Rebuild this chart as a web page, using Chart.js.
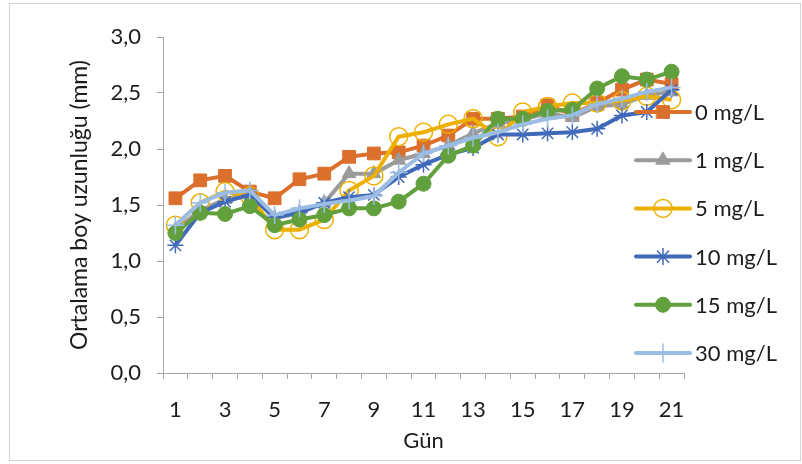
<!DOCTYPE html>
<html>
<head>
<meta charset="utf-8">
<script src="https://cdn.jsdelivr.net/npm/chart.js@4/dist/chart.umd.min.js"></script>
<style>
  html, body { margin: 0; padding: 0; background: #fff; }
  canvas { display: block; }
</style>
</head>
<body>
<canvas id="growthChart" width="802" height="464"></canvas>
<script>
// Günler ve her konsantrasyon için ortalama boy (mm)
const days = ['1','2','3','4','5','6','7','8','9','10','11','12','13','14','15','16','17','18','19','20','21'];
const seriesNames = ['0 mg/L', '1 mg/L', '5 mg/L', '10 mg/L', '15 mg/L', '30 mg/L'];
const c0  = [1.56,1.72,1.76,1.62,1.56,1.73,1.78,1.93,1.96,1.97,2.03,2.12,2.27,2.27,2.29,2.39,2.31,2.41,2.53,2.62,2.58];
const c1  = [1.28,1.45,1.55,1.60,1.38,1.43,1.52,1.78,1.78,1.90,1.96,2.03,2.14,2.23,2.26,2.32,2.28,2.38,2.40,2.48,2.51];
const c5  = [1.32,1.52,1.62,1.58,1.28,1.28,1.37,1.63,1.76,2.11,2.15,2.22,2.27,2.11,2.33,2.38,2.41,2.41,2.43,2.47,2.44];
const c10 = [1.14,1.43,1.53,1.59,1.39,1.43,1.52,1.57,1.59,1.75,1.86,1.95,2.01,2.13,2.13,2.14,2.15,2.18,2.30,2.33,2.53];
const c15 = [1.25,1.43,1.42,1.49,1.32,1.37,1.41,1.47,1.47,1.53,1.69,1.94,2.03,2.27,2.27,2.34,2.35,2.54,2.65,2.62,2.69];
const c30 = [1.32,1.52,1.61,1.63,1.41,1.47,1.51,1.54,1.58,1.79,1.96,2.03,2.10,2.15,2.22,2.27,2.30,2.40,2.45,2.51,2.55];
const yTicks = [0, 0.5, 1, 1.5, 2, 2.5, 3];

const FONT = 'Lato, "Open Sans", sans-serif';
const TEXT = '#1c1c1c';
const AXIS = '#a6a6a6';

function lineSet(label, data, color, style, radius, filled, order) {
    return {
        label: label,
        data: data,
        borderColor: color,
        backgroundColor: color,
        borderWidth: 4,
        pointStyle: style,
        pointRadius: radius,
        pointHoverRadius: radius,
        pointBorderWidth: filled ? 1 : 1.5,
        pointBorderColor: color,
        pointBackgroundColor: filled ? color : 'rgba(255,255,255,0)',
        tension: 0,
        order: order
    };
}

// çerçeve
const framePlugin = {
    id: 'frame',
    beforeDraw(chart) {
        const ctx = chart.ctx;
        ctx.save();
        ctx.fillStyle = '#fff';
        ctx.fillRect(0, 0, chart.width, chart.height);
        ctx.strokeStyle = '#d4d4d4';
        ctx.lineWidth = 1;
        ctx.strokeRect(9.5, 3.5, 791, 457);
        ctx.restore();
    }
};

// sağdaki açıklama: çizgi + işaret + metin
const sideLegend = {
    id: 'sideLegend',
    afterDraw(chart) {
        const ctx = chart.ctx;
        const x0 = 636, x1 = 690, rowTop = 112, rowGap = 48.2;
        chart.data.datasets.forEach(function(ds, i) {
            const y = rowTop + i * rowGap;
            ctx.save();
            ctx.strokeStyle = ds.borderColor;
            ctx.lineWidth = ds.borderWidth;
            ctx.lineCap = 'round';
            ctx.beginPath();
            ctx.moveTo(x0, y);
            ctx.lineTo(x1, y);
            ctx.stroke();
            ctx.fillStyle = ds.pointBackgroundColor;
            ctx.strokeStyle = ds.pointBorderColor;
            ctx.lineWidth = ds.pointBorderWidth;
            Chart.helpers.drawPoint(ctx, {
                pointStyle: ds.pointStyle,
                rotation: 0,
                radius: ds.pointRadius,
                borderWidth: ds.pointBorderWidth
            }, (x0 + x1) / 2, y);
            ctx.fillStyle = TEXT;
            ctx.font = '22px ' + FONT;
            ctx.textBaseline = 'middle';
            ctx.textAlign = 'left';
            ctx.fillText(ds.label, 695, y + 1);
            ctx.restore();
        });
    }
};

const ctx = document.getElementById('growthChart').getContext('2d');
const growthChart = new Chart(ctx, {
    type: 'line',
    data: {
        labels: days,
        datasets: [
            lineSet(seriesNames[0], c0,  '#db6f2c', 'rect',     9,   true,  5),
            lineSet(seriesNames[1], c1,  '#9b9b9b', 'triangle', 8,   true,  4),
            lineSet(seriesNames[2], c5,  '#ecb000', 'circle',   9,   false, 3),
            lineSet(seriesNames[3], c10, '#4169b9', 'star',     8,   false, 2),
            lineSet(seriesNames[4], c15, '#62a03d', 'circle',   7.5, true,  1),
            lineSet(seriesNames[5], c30, '#9bbde3', 'cross',    9,   false, 0)
        ]
    },
    options: {
        responsive: false,
        animation: false,
        layout: {
            padding: { left: 0, right: 118, top: 37, bottom: 0 }
        },
        plugins: {
            legend: { display: false },
            tooltip: { enabled: false }
        },
        scales: {
            x: {
                offset: true,
                grid: {
                    offset: true,
                    drawOnChartArea: false,
                    drawTicks: true,
                    tickLength: 6,
                    color: AXIS
                },
                border: { display: true, color: AXIS, width: 1 },
                ticks: {
                    autoSkip: false,
                    maxRotation: 0,
                    padding: 18,
                    color: TEXT,
                    font: { family: FONT, size: 22 },
                    callback: function(value, index) {
                        return index % 2 === 0 ? days[index] : '';
                    }
                },
                title: {
                    display: true,
                    text: 'Gün',
                    color: TEXT,
                    font: { family: FONT, size: 22 },
                    padding: { top: 2, bottom: 10 }
                },
                afterFit: function(scale) { scale.height = 91; }
            },
            y: {
                min: 0,
                max: 3,
                grid: {
                    drawOnChartArea: false,
                    drawTicks: true,
                    tickLength: 6,
                    color: AXIS
                },
                border: { display: true, color: AXIS, width: 1 },
                afterBuildTicks: function(scale) {
                    scale.ticks = yTicks.map(function(v) { return { value: v }; });
                },
                ticks: {
                    padding: 16,
                    color: TEXT,
                    font: { family: FONT, size: 22 },
                    callback: function(value) {
                        return value.toFixed(1).replace('.', ',');
                    }
                },
                title: {
                    display: true,
                    text: 'Ortalama boy uzunluğu (mm)',
                    color: TEXT,
                    font: { family: FONT, size: 23 },
                    padding: { top: 66, bottom: 0 }
                },
                afterFit: function(scale) { scale.width = 163; }
            }
        }
    },
    plugins: [framePlugin, sideLegend]
});
</script>
</body>
</html>
